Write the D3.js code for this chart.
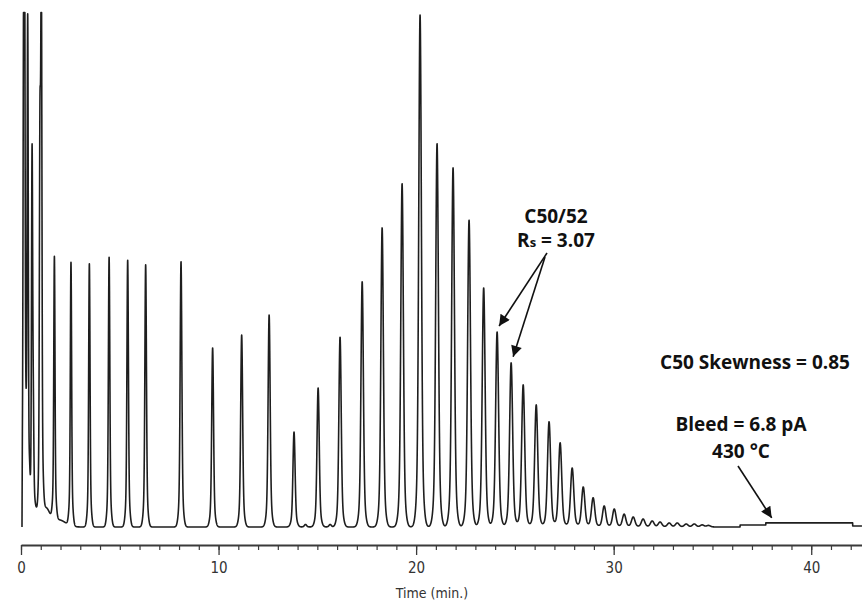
<!DOCTYPE html>
<html>
<head>
<meta charset="utf-8">
<script src="https://cdn.jsdelivr.net/npm/d3@7"></script>
<style>
  body { margin: 0; background: #fff; }
  .note { font-family: "Open Sans", "Noto Sans", sans-serif; font-weight: 700; font-size: 19px; fill: #111; }
  .axis text { font-family: "Liberation Sans Narrow", "DejaVu Sans Condensed", sans-serif; font-size: 15px; fill: #333; }
</style>
</head>
<body>
<svg id="chart" width="862" height="602"></svg>
<script>
// peak retention times (min) and heights (relative signal, tallest = 100)
var peakTimes = [0.13, 0.18, 0.34, 0.43, 0.56, 0.62, 0.96, 1.03,
  1.69, 2.53, 3.46, 4.46, 5.40, 6.31, 8.10, 9.70, 11.17, 12.56, 13.82, 14.40, 15.04, 15.65,
  16.15, 17.27, 18.28, 19.29, 20.20, 21.06, 21.87, 22.68, 23.42, 24.10, 24.81, 25.42,
  26.08, 26.73, 27.29, 27.90, 28.46, 28.96, 29.52, 30.03, 30.53, 30.99, 31.49, 31.95,
  32.35, 32.81, 33.22, 33.67, 34.08, 34.48, 34.80];
var peakHeights = [80, 100, 94, 4, 71, 17, 68.6, 100,
  51.3, 51.3, 51.3, 52.6, 52.0, 51.1, 51.7, 34.9, 37.4, 41.3, 18.5, 0.5, 27.1, 0.5,
  37.0, 47.8, 58.3, 66.9, 99.8, 74.7, 70.0, 59.8, 46.6, 38.0, 32.0, 27.7,
  23.8, 20.5, 16.4, 11.5, 7.8, 5.7, 4.1, 3.5, 2.5, 1.95, 1.56, 1.17,
  0.97, 0.78, 0.78, 0.58, 0.58, 0.4, 0.3];

// broad solvent tailing at the start of the run
var humpTimes = [0.28, 0.75, 1.25, 1.9];
var humpHeights = [7, 3, 3.5, 1.4];
var humpWidths = [0.06, 0.08, 0.2, 0.35];

// column bleed baseline steps (min, relative signal)
var bleedTimes = [0, 36.4, 37.7, 42.1];
var bleedLevels = [0, 0.4, 0.8, 0.2];

var majorTicks = [0, 10, 20, 30, 40];
var minorTicks = d3.range(0, 43, 1);
var xLabel = "Time (min.)";

var svg = d3.select("#chart");

var x = d3.scaleLinear().domain([0, 42.57]).range([21, 862]);
var y = d3.scaleLinear().domain([0, 100]).range([527, 14]);

// peaks broaden a little with retention time
function shape(d, t0) {
  var s1 = 0.026 + 0.0018 * t0, s2 = 0.07 + 0.003 * t0;
  return 0.84 * Math.exp(-d * d / (2 * s1 * s1)) + 0.16 * Math.exp(-d * d / (2 * s2 * s2));
}

function bleed(t) {
  var v = 0;
  for (var i = 0; i < bleedTimes.length; i++) {
    if (t >= bleedTimes[i]) v = bleedLevels[i];
  }
  return v;
}

function signal(t) {
  var v = bleed(t);
  for (var i = 0; i < peakTimes.length; i++) {
    var d = t - peakTimes[i];
    if (Math.abs(d) < 0.8) v += peakHeights[i] * shape(d, peakTimes[i]);
  }
  for (var j = 0; j < humpTimes.length; j++) {
    var e = (t - humpTimes[j]) / humpWidths[j];
    v += humpHeights[j] * Math.exp(-e * e / 2);
  }
  return v;
}

// sample the trace finely so the narrow peaks keep their shape
// (recording starts on the baseline at injection)
var trace = [[0.05, bleed(0)]];
for (var t = 0.07; t <= 42.57; t += 0.003) {
  trace.push([t, signal(t)]);
}

var line = d3.line()
  .x(function(d) { return x(d[0]); })
  .y(function(d) { return y(Math.min(d[1], 100.3)); });

svg.append("path")
  .datum(trace)
  .attr("fill", "none")
  .attr("stroke", "#1e1e1e")
  .attr("stroke-width", 1.6)
  .attr("stroke-linejoin", "round")
  .attr("d", line);

// x axis: minor ticks every minute, labelled majors every 10
var axisY = 545;
svg.append("g")
  .attr("class", "axis")
  .attr("transform", "translate(0," + axisY + ")")
  .call(d3.axisBottom(x).tickValues(minorTicks).tickSize(5).tickSizeOuter(0).tickFormat(""))
  .call(function(g) {
    g.select(".domain").attr("stroke", "#3a3a3a").attr("stroke-width", 1.8);
    g.selectAll(".tick line").attr("stroke", "#3a3a3a").attr("stroke-width", 1.2);
  });

svg.append("g")
  .attr("class", "axis")
  .attr("transform", "translate(0," + axisY + ")")
  .call(d3.axisBottom(x).tickValues(majorTicks).tickSize(10).tickPadding(7).tickSizeOuter(0))
  .call(function(g) {
    g.select(".domain").remove();
    g.selectAll(".tick line").attr("stroke", "#3a3a3a").attr("stroke-width", 1.3);
  });

svg.append("text")
  .attr("x", 432)
  .attr("y", 598)
  .attr("text-anchor", "middle")
  .style("font-family", "'Liberation Sans Narrow', 'DejaVu Sans Condensed', sans-serif")
  .style("font-size", "14px")
  .style("fill", "#333")
  .text(xLabel);

// arrow heads
svg.append("defs").append("marker")
  .attr("id", "head")
  .attr("viewBox", "0 0 10 10")
  .attr("refX", 10).attr("refY", 5)
  .attr("markerWidth", 14).attr("markerHeight", 11)
  .attr("markerUnits", "userSpaceOnUse")
  .attr("orient", "auto")
  .append("path")
  .attr("d", "M0,0 L10,5 L0,10 Z")
  .attr("fill", "#111");

function arrow(x1, y1, x2, y2) {
  svg.append("line")
    .attr("x1", x1).attr("y1", y1)
    .attr("x2", x2).attr("y2", y2)
    .attr("stroke", "#111")
    .attr("stroke-width", 1.6)
    .attr("marker-end", "url(#head)");
}

// C50 / C52 resolution note
var c50 = peakTimes.indexOf(24.10), c52 = peakTimes.indexOf(24.81);
svg.append("text").attr("class", "note").attr("x", 556).attr("y", 223)
  .attr("text-anchor", "middle").text("C50/52");
var rs = svg.append("text").attr("class", "note").attr("x", 556).attr("y", 247)
  .attr("text-anchor", "middle");
rs.append("tspan").text("R");
rs.append("tspan").style("font-size", "13px").text("s");
rs.append("tspan").text(" = 3.07");

arrow(547, 253, x(peakTimes[c50]) + 2, y(peakHeights[c50]) - 6);
arrow(545, 257, x(peakTimes[c52]) + 2, y(peakHeights[c52]) - 6);

svg.append("text").attr("class", "note").attr("x", 755).attr("y", 369)
  .attr("text-anchor", "middle").text("C50 Skewness = 0.85");
svg.append("text").attr("class", "note").attr("x", 741).attr("y", 431)
  .attr("text-anchor", "middle").text("Bleed = 6.8 pA");
svg.append("text").attr("class", "note").attr("x", 741).attr("y", 458)
  .attr("text-anchor", "middle").text("430 °C");

arrow(738, 466, x(38.0), y(bleed(38.0)) - 5);
</script>
</body>
</html>
